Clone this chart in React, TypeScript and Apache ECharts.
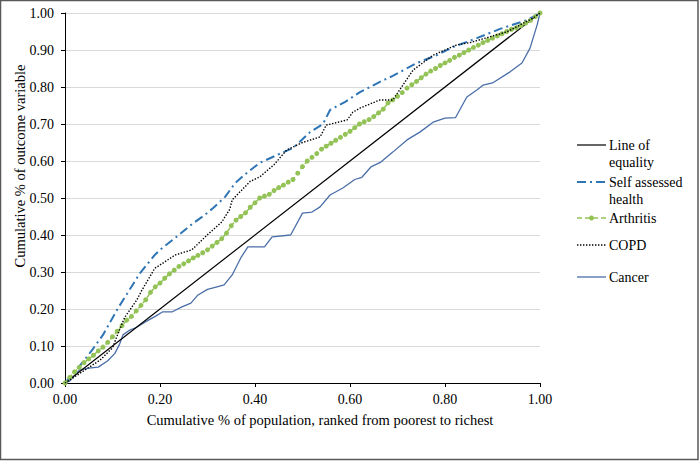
import React, { useEffect, useRef } from "react";
import * as echarts from "echarts";

// Line of equality
const equalityPoints: [number, number][] = [[0, 0], [1, 1]];

// Self assessed health (x, cumulative share)
const selfAssessedPoints: [number, number][] = [
  [0, 0], [0.036, 0.054], [0.057, 0.089], [0.08, 0.13], [0.112, 0.203], [0.13, 0.24],
  [0.158, 0.297], [0.189, 0.346], [0.2, 0.36], [0.23, 0.39], [0.27, 0.432], [0.29, 0.45],
  [0.312, 0.473], [0.337, 0.503], [0.358, 0.54], [0.38, 0.565], [0.41, 0.595], [0.453, 0.62],
  [0.48, 0.635], [0.516, 0.678], [0.543, 0.7], [0.558, 0.738], [0.59, 0.76], [0.621, 0.786],
  [0.663, 0.814], [0.69, 0.83], [0.741, 0.865], [0.783, 0.886], [0.817, 0.908], [0.867, 0.932],
  [0.916, 0.957], [0.973, 0.981], [1, 1],
];

// Arthritis, one value per 0.01 of population
const arthritisValues: number[] = [
  0, 0.015, 0.03, 0.042, 0.055, 0.065, 0.075, 0.087, 0.097, 0.11,
  0.125, 0.14, 0.155, 0.17, 0.18, 0.195, 0.21, 0.225, 0.245, 0.26,
  0.27, 0.283, 0.295, 0.305, 0.315, 0.322, 0.33, 0.338, 0.345, 0.352,
  0.36, 0.37, 0.38, 0.39, 0.405, 0.425, 0.44, 0.45, 0.46, 0.475,
  0.487, 0.5, 0.505, 0.51, 0.52, 0.528, 0.535, 0.543, 0.55, 0.567,
  0.585, 0.6, 0.61, 0.62, 0.632, 0.64, 0.648, 0.656, 0.664, 0.672,
  0.68, 0.69, 0.7, 0.706, 0.712, 0.72, 0.73, 0.74, 0.757, 0.765,
  0.775, 0.785, 0.797, 0.806, 0.815, 0.825, 0.835, 0.843, 0.85, 0.858,
  0.865, 0.872, 0.88, 0.886, 0.893, 0.9, 0.907, 0.913, 0.92, 0.926,
  0.932, 0.938, 0.944, 0.95, 0.956, 0.96, 0.966, 0.973, 0.98, 0.99, 1.0,
];

// COPD
const copdPoints: [number, number][] = [
  [0, 0], [0.03, 0.025], [0.074, 0.062], [0.1, 0.095], [0.112, 0.135], [0.126, 0.178],
  [0.151, 0.224], [0.162, 0.251], [0.189, 0.31], [0.2, 0.319], [0.232, 0.346], [0.267, 0.36],
  [0.301, 0.402], [0.33, 0.435], [0.347, 0.47], [0.352, 0.495], [0.39, 0.545], [0.41, 0.557],
  [0.44, 0.59], [0.467, 0.63], [0.5, 0.65], [0.537, 0.665], [0.55, 0.697], [0.594, 0.711],
  [0.606, 0.732], [0.621, 0.743], [0.663, 0.765], [0.69, 0.765], [0.733, 0.846], [0.775, 0.886],
  [0.825, 0.914], [0.853, 0.92], [0.93, 0.949], [0.985, 0.986], [1, 1],
];

// Cancer
const cancerPoints: [number, number][] = [
  [0, 0], [0.01, 0.005], [0.02, 0.02], [0.03, 0.035], [0.05, 0.04], [0.07, 0.043], [0.09, 0.06],
  [0.105, 0.08], [0.115, 0.105], [0.122, 0.13], [0.135, 0.142], [0.15, 0.15], [0.17, 0.166],
  [0.19, 0.18], [0.205, 0.192], [0.225, 0.192], [0.245, 0.205], [0.265, 0.216], [0.28, 0.238],
  [0.3, 0.253], [0.32, 0.26], [0.335, 0.265], [0.352, 0.292], [0.37, 0.338], [0.385, 0.368],
  [0.42, 0.368], [0.436, 0.395], [0.475, 0.4], [0.5, 0.459], [0.52, 0.462], [0.537, 0.476],
  [0.558, 0.508], [0.585, 0.527], [0.61, 0.55], [0.625, 0.556], [0.645, 0.585], [0.665, 0.597],
  [0.69, 0.624], [0.72, 0.657], [0.747, 0.678], [0.775, 0.705], [0.8, 0.716], [0.822, 0.717],
  [0.846, 0.773], [0.867, 0.792], [0.88, 0.805], [0.9, 0.811], [0.937, 0.841], [0.962, 0.865],
  [0.979, 0.905], [0.994, 0.968], [1, 1],
];

const seriesNames = ["Line of equality", "Self assessed health", "Arthritis", "COPD", "Cancer"];
const xTitle = "Cumulative % of population, ranked from poorest to richest";
const yTitle = "Cumulative % of outcome variable";

const FONT = "'Liberation Serif', 'Times New Roman', serif";
const C_SELF = "#2E75B6";
const C_ARTH = "#93C256";
const C_CANCER = "#4A6EA8";

export default function App() {
  const ref = useRef<HTMLDivElement>(null);
  useEffect(() => {
    document.body.style.margin = "0";
    if (!ref.current) return;
    const chart = echarts.init(ref.current, null, { renderer: "svg" });
    const arthritisData = arthritisValues.map((v, i) => [i / 100, v]);

    const legendX1 = 577;
    const legendX2 = 606;
    const textX = 609;
    const legendText = (x: number, y: number, t: string) => ({
      type: "text",
      x,
      y,
      style: { text: t, font: `14px ${FONT}`, fill: "#000", textVerticalAlign: "middle", lineHeight: 17 },
    });
    const legendLine = (y: number, stroke: string, lineDash: any, lineWidth: number) => ({
      type: "line",
      shape: { x1: legendX1, y1: y, x2: legendX2, y2: y },
      style: { stroke, lineWidth, lineDash },
    });

    chart.setOption({
      animation: false,
      backgroundColor: "#fff",
      grid: { left: 65, top: 13, width: 475, height: 370, containLabel: false },
      xAxis: {
        type: "value",
        min: 0,
        max: 1,
        interval: 0.2,
        axisLine: { show: true, onZero: false, lineStyle: { color: "#000", width: 1 } },
        axisTick: { show: true, inside: false, length: 4, lineStyle: { color: "#000" } },
        axisLabel: { formatter: (v: number) => v.toFixed(2), fontFamily: FONT, fontSize: 14, color: "#000", margin: 9 },
        splitLine: { show: false },
      },
      yAxis: {
        type: "value",
        min: 0,
        max: 1,
        interval: 0.1,
        axisLine: { show: true, onZero: false, lineStyle: { color: "#000", width: 1 } },
        axisTick: { show: true, inside: false, length: 4, lineStyle: { color: "#000" } },
        axisLabel: { formatter: (v: number) => v.toFixed(2), fontFamily: FONT, fontSize: 14, color: "#000", margin: 11 },
        splitLine: { show: true, lineStyle: { color: "#D9D9D9", width: 1 } },
      },
      series: [
        {
          name: seriesNames[0],
          type: "line",
          data: equalityPoints,
          showSymbol: false,
          lineStyle: { color: "#000", width: 1.2 },
          z: 3,
        },
        {
          name: seriesNames[1],
          type: "line",
          data: selfAssessedPoints,
          showSymbol: false,
          lineStyle: { color: C_SELF, width: 2, type: [9, 4, 2, 4] },
          z: 4,
        },
        {
          name: seriesNames[2],
          type: "line",
          data: arthritisData,
          symbol: "circle",
          symbolSize: 5,
          itemStyle: { color: C_ARTH },
          lineStyle: { color: C_ARTH, width: 1.5, type: [4, 3] },
          z: 5,
        },
        {
          name: seriesNames[3],
          type: "line",
          data: copdPoints,
          showSymbol: false,
          lineStyle: { color: "#000", width: 1.4, type: [1.4, 1.6] },
          z: 6,
        },
        {
          name: seriesNames[4],
          type: "line",
          data: cancerPoints,
          showSymbol: false,
          lineStyle: { color: C_CANCER, width: 1.3 },
          z: 2,
        },
      ],
      graphic: [
        {
          type: "rect",
          shape: { x: 0.5, y: 0.5, width: 697.5, height: 459 },
          style: { fill: "none", stroke: "#595959", lineWidth: 1.5 },
          silent: true,
        },
        {
          type: "text",
          x: 320,
          y: 420,
          style: { text: xTitle, font: `14.5px ${FONT}`, fill: "#000", textAlign: "center", textVerticalAlign: "middle" },
        },
        {
          type: "text",
          x: 20,
          y: 166,
          rotation: Math.PI / 2,
          style: { text: yTitle, font: `14.5px ${FONT}`, fill: "#000", textAlign: "center", textVerticalAlign: "middle" },
        },
        legendLine(145, "#000", null, 1.2),
        legendText(textX, 145, "Line of"),
        legendText(textX, 162, "equality"),
        legendLine(182, C_SELF, [9, 4, 2, 4], 2),
        legendText(textX, 182, "Self assessed"),
        legendText(textX, 199, "health"),
        legendLine(218, C_ARTH, [5, 3], 1.5),
        { type: "circle", shape: { cx: (legendX1 + legendX2) / 2, cy: 218, r: 2.5 }, style: { fill: C_ARTH } },
        legendText(textX, 218, "Arthritis"),
        legendLine(245, "#000", [1.4, 1.6], 1.4),
        legendText(textX, 245, "COPD"),
        legendLine(277, C_CANCER, null, 1.3),
        legendText(textX, 277, "Cancer"),
      ],
    });
    return () => chart.dispose();
  }, []);
  return <div ref={ref} style={{ width: 699, height: 461 }} />;
}
